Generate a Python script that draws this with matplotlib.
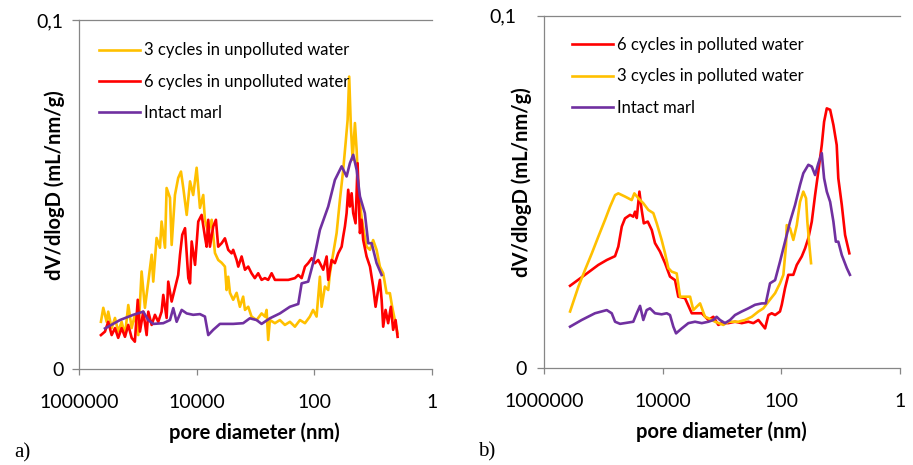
import matplotlib
matplotlib.use('Agg')
import matplotlib.pyplot as plt
from matplotlib.ticker import NullLocator

YELLOW = '#FFC000'
RED = '#FF0000'
PURPLE = '#7030A0'
GREY = '#868686'
FONT = 'Lato'

x_ticks = [1000000, 10000, 100, 1]
x_tick_labels = ['1000000', '10000', '100', '1']
y_ticks = [0, 0.1]
y_tick_labels = ['0', '0,1']

# ---- panel a) unpolluted water ----
a_d_3cyc = [423000, 386000, 338000, 318000, 278000, 244000, 215000, 188000, 165000, 145000,
            127000, 112000, 98000, 86000, 75500, 66200, 58000, 54500, 47800, 41900,
            39300, 34400, 32300, 28300, 26500, 23300, 20500, 18400, 16800, 14700,
            12900, 11400, 9960, 8750, 7690, 7200, 6320, 5530, 4860, 4280,
            3740, 3290, 3080, 2890, 2700, 2380, 2080, 1830, 1610, 1500,
            1320, 1160, 951, 782, 687, 643, 604, 565, 464, 382,
            314, 258, 212, 174, 143, 118, 104, 90.8, 79.7, 74.5,
            65.5, 57.5, 53.8, 47.3, 41.4, 36.4, 32.0, 29.1, 26.9, 25.3,
            23.7, 22.1, 20.2, 18.9, 17.8, 15.6, 14.1, 12.8, 11.2, 9.9,
            8.65, 7.6, 6.68, 5.85, 5.14, 4.7, 4.23, 3.8]
a_v_3cyc = [0.0136, 0.0176, 0.0136, 0.0165, 0.0118, 0.0147, 0.0108, 0.0136, 0.0098, 0.0184,
            0.0118, 0.0156, 0.0098, 0.0280, 0.0176, 0.0251, 0.0328, 0.0251, 0.0376, 0.0348,
            0.0423, 0.0348, 0.0519, 0.0491, 0.0356, 0.0499, 0.0548, 0.0566, 0.0519, 0.0442,
            0.0538, 0.0499, 0.0577, 0.0462, 0.0499, 0.0428, 0.0391, 0.0428, 0.0333, 0.0313,
            0.0305, 0.0294, 0.0227, 0.0265, 0.0219, 0.0199, 0.0219, 0.0179, 0.0208, 0.0170,
            0.0179, 0.0151, 0.0141, 0.0160, 0.0151, 0.0170, 0.0084, 0.0141, 0.0132, 0.0141,
            0.0127, 0.0136, 0.0122, 0.0141, 0.0132, 0.0151, 0.0170, 0.0151, 0.0265, 0.0179,
            0.0237, 0.0227, 0.0275, 0.0332, 0.0390, 0.0485, 0.0571, 0.0648, 0.0714, 0.0838,
            0.0695, 0.0600, 0.0705, 0.0628, 0.0523, 0.0437, 0.0390, 0.0351, 0.0342, 0.0370,
            0.0342, 0.0294, 0.0275, 0.0218, 0.0218, 0.0179, 0.0141, 0.0103]

a_d_6cyc = [423000, 361000, 318000, 278000, 244000, 215000, 188000, 165000, 145000, 127000,
            112000, 100000, 91800, 80600, 70600, 66200, 58000, 51000, 44800, 39300,
            36800, 32300, 30300, 26500, 23300, 20500, 19100, 17500, 15700, 13800,
            12900, 12100, 10600, 9350, 8190, 7200, 6730, 6320, 5920, 5200,
            4680, 4280, 3740, 3290, 2890, 2530, 2380, 2080, 1950, 1710,
            1500, 1320, 1160, 1020, 893, 782, 687, 604, 528, 464,
            357, 275, 212, 186, 163, 143, 126, 110, 96.8, 85.1,
            79.7, 70, 61.2, 57.5, 50.4, 44.3, 38.9, 34.0, 32.0, 29.9,
            28.0, 26.3, 24.6, 23.0, 21.6, 19.7, 18.2, 16.6, 15.6, 14.6,
            12.8, 11.2, 9.9, 9.0, 8.3, 7.6, 7.1, 6.68, 6.08, 5.5,
            4.94, 4.52, 4.11, 3.8]
a_v_6cyc = [0.0098, 0.0108, 0.0136, 0.0098, 0.0118, 0.0090, 0.0118, 0.0093, 0.0127, 0.0090,
            0.0079, 0.0199, 0.0108, 0.0165, 0.0098, 0.0165, 0.0127, 0.0156, 0.0136, 0.0165,
            0.0213, 0.0147, 0.0251, 0.0194, 0.0232, 0.0270, 0.0328, 0.0385, 0.0404, 0.0261,
            0.0246, 0.0366, 0.0299, 0.0423, 0.0442, 0.0380, 0.0351, 0.0428, 0.0351, 0.0409,
            0.0428, 0.0351, 0.0361, 0.0375, 0.0342, 0.0332, 0.0342, 0.0313, 0.0294, 0.0323,
            0.0285, 0.0294, 0.0275, 0.0261, 0.0275, 0.0256, 0.0261, 0.0256, 0.0275, 0.0256,
            0.0256, 0.0256, 0.0261, 0.0270, 0.0261, 0.0294, 0.0304, 0.0318, 0.0304, 0.0313,
            0.0304, 0.0285, 0.0323, 0.0256, 0.0313, 0.0304, 0.0332, 0.0351, 0.0380, 0.0409,
            0.0447, 0.0514, 0.0466, 0.0504, 0.0447, 0.0418, 0.0590, 0.0390, 0.0428, 0.0370,
            0.0323, 0.0294, 0.0237, 0.0179, 0.0218, 0.0256, 0.0199, 0.0122, 0.0170, 0.0132,
            0.0179, 0.0113, 0.0141, 0.0093]

a_d_intact = [361000, 201000, 119000, 80600, 66200, 54500, 36800, 28300, 24900, 21800,
              17900, 14700, 11400, 8750, 7200, 6320, 5200, 4000, 2380, 1610,
              1240, 951, 782, 565, 382, 258, 186, 163, 126, 104,
              79.7, 57.5, 44.3, 34.0, 28.0, 24.6, 21.6, 18.9, 16.6, 13.7,
              12.0, 10.5, 8.65, 7.1]
a_v_intact = [0.0117, 0.0141, 0.0156, 0.0165, 0.0141, 0.0130, 0.0132, 0.0141, 0.0175, 0.0136,
              0.0170, 0.0160, 0.0156, 0.0158, 0.0151, 0.0098, 0.0113, 0.0130, 0.0130, 0.0132,
              0.0146, 0.0141, 0.0130, 0.0146, 0.0160, 0.0179, 0.0187, 0.0246, 0.0251, 0.0304,
              0.0399, 0.0466, 0.0542, 0.0581, 0.0552, 0.0590, 0.0614, 0.0571, 0.0495, 0.0447,
              0.0361, 0.0361, 0.0304, 0.0270]

# ---- panel b) polluted water ----
b_d_6cyc = [368000, 206000, 123000, 88500, 64100, 56500, 49400, 43600, 35800, 31600,
            29500, 27600, 24900, 22800, 21000, 18000, 15400, 13600, 11200, 9200,
            7590, 6240, 5500, 4240, 3260, 2210, 1710, 1410, 1160, 1020,
            787, 607, 468, 362, 298, 245, 189, 166, 146, 128,
            106, 98.9, 87.1, 76.6, 63.1, 55.2, 45.5, 40.0, 35.2, 30.8,
            27.1, 23.9, 20.9, 19.1, 17.2, 15.1, 13.3, 11.7, 11.0, 9.6,
            8.45, 7.16]
b_v_6cyc = [0.0234, 0.0265, 0.0293, 0.0307, 0.0318, 0.0345, 0.0402, 0.0425, 0.0435, 0.0430,
            0.0444, 0.0426, 0.0501, 0.0449, 0.0411, 0.0416, 0.0392, 0.0355, 0.0331, 0.0298,
            0.0260, 0.0250, 0.0203, 0.0199, 0.0156, 0.0156, 0.0137, 0.0146, 0.0123, 0.0128,
            0.0128, 0.0132, 0.0128, 0.0132, 0.0128, 0.0137, 0.0113, 0.0151, 0.0156, 0.0151,
            0.0161, 0.0180, 0.0227, 0.0265, 0.0265, 0.0293, 0.0317, 0.0340, 0.0369, 0.0416,
            0.0491, 0.0558, 0.0633, 0.0699, 0.0737, 0.0733, 0.0690, 0.0633, 0.0539, 0.0463,
            0.0378, 0.0326]

b_d_3cyc = [368000, 267000, 206000, 158000, 123000, 94600, 78000, 64100, 56500, 43600,
            33600, 30300, 25900, 21400, 17600, 14500, 12700, 10500, 9200, 8090,
            7100, 5850, 5140, 4400, 3480, 3070, 2360, 1950, 1710, 1320,
            955, 787, 533, 411, 317, 245, 202, 166, 128, 106,
            92.9, 83.7, 81.5, 71.6, 63.1, 55.2, 48.6, 42.8, 38.5, 36.6,
            33.9, 31.7]
b_v_3cyc = [0.0161, 0.0231, 0.0279, 0.0326, 0.0373, 0.0421, 0.0458, 0.0491, 0.0496, 0.0487,
            0.0477, 0.0496, 0.0482, 0.0468, 0.0449, 0.0440, 0.0411, 0.0364, 0.0326, 0.0284,
            0.0274, 0.0269, 0.0203, 0.0203, 0.0203, 0.0165, 0.0184, 0.0146, 0.0142, 0.0132,
            0.0123, 0.0132, 0.0132, 0.0137, 0.0146, 0.0161, 0.0170, 0.0189, 0.0213, 0.0241,
            0.0265, 0.0350, 0.0406, 0.0397, 0.0364, 0.0406, 0.0472, 0.0501, 0.0482, 0.0416,
            0.0350, 0.0298]

b_d_intact = [368000, 234000, 140000, 88500, 73000, 64100, 52800, 40700, 31600, 27600,
              24300, 21400, 18800, 16500, 13600, 10500, 8610, 7590, 6670, 6000,
              4810, 3720, 2870, 2210, 1710, 1410, 1240, 1090, 895, 736,
              607, 468, 362, 279, 215, 184, 156, 128, 106, 87.1,
              71.6, 59.0, 48.6, 42.8, 35.2, 30.8, 27.1, 23.9, 20.9, 19.1,
              17.2, 15.1, 13.3, 12.1, 11.0, 9.6, 7.9, 7.0]
b_v_intact = [0.0118, 0.0137, 0.0156, 0.0165, 0.0156, 0.0132, 0.0126, 0.0129, 0.0132, 0.0156,
              0.0177, 0.0137, 0.0165, 0.0170, 0.0156, 0.0153, 0.0156, 0.0151, 0.0118, 0.0099,
              0.0113, 0.0128, 0.0132, 0.0128, 0.0132, 0.0137, 0.0146, 0.0137, 0.0128, 0.0137,
              0.0151, 0.0161, 0.0170, 0.0180, 0.0184, 0.0184, 0.0241, 0.0250, 0.0302, 0.0359,
              0.0416, 0.0463, 0.0520, 0.0553, 0.0577, 0.0572, 0.0548, 0.0581, 0.0610, 0.0539,
              0.0501, 0.0472, 0.0416, 0.0359, 0.0359, 0.0321, 0.0284, 0.0265]


def style_axes(ax, ypad):
    ax.set_xscale('log')
    ax.set_xlim(1e6, 1)
    ax.set_ylim(0, 0.1)
    ax.set_xticks(x_ticks, x_tick_labels)
    ax.xaxis.set_minor_locator(NullLocator())
    ax.set_yticks(y_ticks, y_tick_labels)
    ax.spines['right'].set_visible(False)
    for s in ['left', 'bottom', 'top']:
        ax.spines[s].set_color(GREY)
        ax.spines[s].set_linewidth(0.9)
    ax.tick_params(axis='x', direction='out', length=4.5, width=0.9, color=GREY,
                   pad=13, labelsize=14)
    ax.tick_params(axis='y', direction='out', length=5, width=0.9, color=GREY,
                   pad=ypad, labelsize=14)
    for lab in ax.get_xticklabels() + ax.get_yticklabels():
        lab.set_fontfamily(FONT)
    ax.set_xlabel('pore diameter (nm)', fontfamily=FONT, fontweight='bold',
                  fontsize=14.5, va='center')
    ax.set_ylabel('dV/dlogD (mL/nm/g)', fontfamily=FONT, fontweight='bold',
                  fontsize=14.5, va='center')


def add_legend(ax, x, y):
    ax.legend(loc='upper left', bbox_to_anchor=(x, y), frameon=False,
              borderaxespad=0, borderpad=0, handlelength=2.45, handletextpad=0.25,
              labelspacing=0.92, prop={'family': FONT, 'size': 12})


fig = plt.figure(figsize=(9.13, 4.65), dpi=100)

ax1 = fig.add_axes([0.0865, 0.2058, 0.3863, 0.7512])
ax1.plot(a_d_3cyc, a_v_3cyc, color=YELLOW, lw=1.9, label='3 cycles in unpolluted water')
ax1.plot(a_d_6cyc, a_v_6cyc, color=RED, lw=1.9, label='6 cycles in unpolluted water')
ax1.plot(a_d_intact, a_v_intact, color=PURPLE, lw=1.9, label='Intact marl')
style_axes(ax1, 6)
ax1.xaxis.set_label_coords(0.496, -0.182)
ax1.yaxis.set_label_coords(-0.068, 0.528)
add_legend(ax1, 0.057, 0.936)

ax2 = fig.add_axes([0.5962, 0.208, 0.3896, 0.7584])
ax2.plot(b_d_6cyc, b_v_6cyc, color=RED, lw=1.9, label='6 cycles in polluted water')
ax2.plot(b_d_3cyc, b_v_3cyc, color=YELLOW, lw=1.9, label='3 cycles in polluted water')
ax2.plot(b_d_intact, b_v_intact, color=PURPLE, lw=1.9, label='Intact marl')
style_axes(ax2, 8)
# the "0,1" label sits a bit further left than "0" in panel b
ax2.yaxis.get_major_ticks()[1].set_pad(15)
ax2.xaxis.set_label_coords(0.497, -0.181)
ax2.yaxis.set_label_coords(-0.0635, 0.528)
add_legend(ax2, 0.079, 0.939)

fig.text(0.024, 0.026, 'a)', family='Liberation Serif', fontsize=15, ha='center', va='center')
fig.text(0.533, 0.028, 'b)', family='Liberation Serif', fontsize=15, ha='center', va='center')

fig.savefig('out.png', dpi=100)
